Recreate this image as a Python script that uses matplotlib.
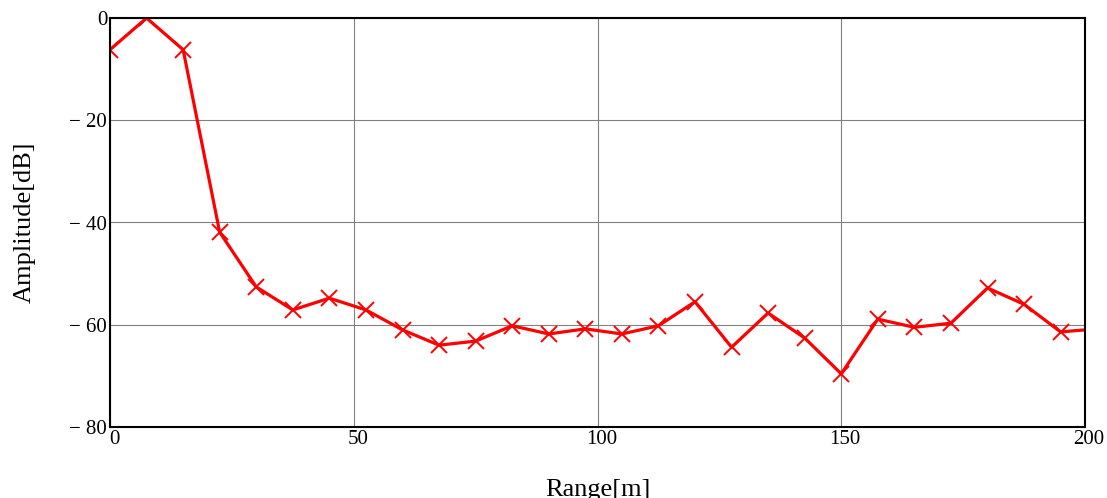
import matplotlib
matplotlib.use("Agg")
import matplotlib.pyplot as plt
from matplotlib.transforms import ScaledTranslation

# Range bins (m) and measured amplitude (dB)
range_m = [0, 7.5, 15, 22.5, 30, 37.5, 45, 52.5, 60, 67.5, 75, 82.5, 90, 97.5,
           105, 112.5, 120, 127.5, 135, 142.5, 150, 157.5, 165, 172.5, 180,
           187.5, 195, 202.5]
amplitude_db = [-6.2, 0.0, -6.2, -41.9, -52.6, -57.1, -54.8, -57.1, -61.0, -64.0,
                -63.2, -60.2, -61.8, -60.8, -61.8, -60.2, -55.5, -64.4, -57.7,
                -62.6, -69.6, -58.9, -60.5, -59.7, -52.8, -56.0, -61.4, -60.8]

x_ticks = [0, 50, 100, 150, 200]
x_tick_labels = ["0", "50", "100", "150", "200"]
y_ticks = [0, -20, -40, -60, -80]
y_tick_labels = ["0", "\u2212 20", "\u2212 40", "\u2212 60", "\u2212 80"]

plt.rcParams["font.family"] = ["Liberation Serif", "DejaVu Serif"]

fig = plt.figure(figsize=(11.07, 4.98), dpi=100)
ax = fig.add_axes([110 / 1107, 1 - 427 / 498, 975 / 1107, 409 / 498])

ax.plot(range_m, amplitude_db, color="#ff0000", linewidth=2.3,
        marker="x", markersize=11, markeredgewidth=1.4)

ax.set_xlim(0, 200)
ax.set_ylim(-80, 0)
ax.set_xticks(x_ticks)
ax.set_xticklabels(x_tick_labels)
ax.set_yticks(y_ticks)
ax.set_yticklabels(y_tick_labels)
ax.tick_params(axis="both", length=0, labelsize=15, pad=2)

# nudge x tick labels slightly to the right
shift = ScaledTranslation(4 / 100, 0, fig.dpi_scale_trans)
for lbl in ax.get_xticklabels():
    lbl.set_transform(lbl.get_transform() + shift)

ax.grid(True, color="#808080", linewidth=0.8)
ax.set_axisbelow(True)
for s in ax.spines.values():
    s.set_linewidth(1.5)
    s.set_color("black")

ax.set_xlabel("Range[m]", fontsize=19, labelpad=22)
ax.set_ylabel("Amplitude[dB]", fontsize=19, labelpad=24)

fig.savefig("out.png", dpi=100)
